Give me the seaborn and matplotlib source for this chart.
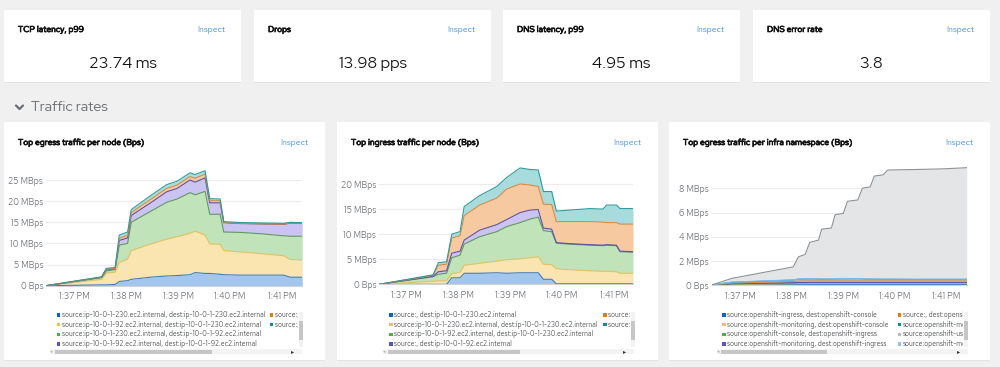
import numpy as np
import pandas as pd
import matplotlib
matplotlib.use('Agg')
import matplotlib.pyplot as plt
import matplotlib.patheffects as pe
from matplotlib.patches import Rectangle
from matplotlib.lines import Line2D
import seaborn as sns

sns.set_theme(style='white')
plt.rcParams['font.family'] = ['Red Hat Text', 'Lato', 'DejaVu Sans']
DISPLAY = ['Red Hat Display', 'Lato', 'DejaVu Sans']

# --- summary cards ---
card_titles = ['TCP latency, p99', 'Drops', 'DNS latency, p99', 'DNS error rate']
card_values = ['23.74 ms', '13.98 pps', '4.95 ms', '3.8']

tick_minutes = [37, 38, 39, 40, 41]
tick_labels = ['1:37 PM', '1:38 PM', '1:39 PM', '1:40 PM', '1:41 PM']

# --- top egress traffic per node (MBps, layer thickness) ---
egress_t = [36.46, 37.53, 37.62, 37.79, 37.87, 38.03, 38.10, 38.46, 38.78, 38.98, 39.23,
            39.33, 39.52, 39.61, 39.81, 39.88, 40.20, 40.58, 41.03, 41.16, 41.39]
egress_blue = [0, 0.2, 0.2, 0.3, 1.0, 1.2, 1.5, 2.0, 2.3, 2.4, 2.6, 3.1, 2.9, 2.9, 2.7, 2.6, 2.5, 2.5, 2.5, 2.0, 2.0]
egress_yellow = [0, 1.3, 2.8, 2.9, 4.5, 5.1, 6.8, 7.8, 8.7, 9.2, 9.8, 9.8, 9.1, 7.0, 7.1, 5.7, 5.5, 5.1, 4.6, 4.2, 4.1]
egress_green = [0, 0.4, 0.5, 0.6, 4.1, 3.7, 6.7, 7.7, 8.7, 8.9, 9.6, 8.6, 10.3, 7.0, 7.1, 4.4, 4.6, 4.7, 4.7, 5.5, 5.6]
egress_purple = [0, 0.1, 0.3, 0.2, 1.1, 1.3, 1.6, 2.0, 2.5, 2.5, 3.0, 3.0, 3.2, 2.7, 2.7, 2.2, 2.1, 2.3, 2.7, 3.1, 3.0]
egress_orange = [0, 0.05, 0.1, 0.1, 0.5, 0.6, 0.7, 0.8, 0.8, 0.8, 0.8, 0.9, 0.9, 0.5, 0.5, 0.1, 0.05, 0.05, 0.05, 0.05, 0.05]
egress_teal = [0, 0.05, 0.2, 0.2, 0.8, 0.8, 0.7, 0.9, 0.9, 0.9, 0.9, 0.9, 0.8, 0.5, 0.4, 0.15, 0.2, 0.2, 0.2, 0.15, 0.15]
egress_labels = ['source:ip-10-0-1-230.ec2.internal, dest:ip-10-0-1-230.ec2.internal',
                 'source:ip-10-0-1-92.ec2.internal, dest:ip-10-0-1-230.ec2.internal',
                 'source:ip-10-0-1-230.ec2.internal, dest:ip-10-0-1-92.ec2.internal',
                 'source:ip-10-0-1-92.ec2.internal, dest:ip-10-0-1-92.ec2.internal',
                 'source:, dest:ip-10-0-1-230',
                 'source:, dest:ip-10-0-1-92']

# --- top ingress traffic per node ---
ingress_t = [36.47, 37.51, 37.61, 37.77, 37.87, 38.03, 38.11, 38.41, 38.74, 38.93, 39.19, 39.38,
             39.54, 39.64, 39.80, 39.89, 40.15, 40.54, 40.79, 40.86, 41.05, 41.12, 41.37]
ingress_blue = [0, 0, 0, 0, 1.3, 1.3, 2.2, 2.2, 2.3, 2.2, 2.3, 2.3, 2.3, 1.0, 1.0, 0.1, 0.1, 0.1, 0.1, 0.1, 0.1, 0.1, 0.1]
ingress_yellow = [0, 0.6, 0.7, 0.7, 0.8, 1.1, 1.6, 2.0, 2.3, 2.7, 2.8, 3.0, 3.2, 3.0, 2.9, 3.0, 2.8, 2.6, 2.5, 2.5, 2.4, 2.1, 2.1]
ingress_green = [0, 0.9, 1.3, 1.5, 3.2, 3.4, 4.2, 5.3, 5.9, 6.6, 7.2, 7.7, 7.9, 6.7, 6.6, 5.1, 5.1, 5.1, 5.1, 5.2, 5.2, 4.3, 4.2]
ingress_purple = [0, 0.1, 0.5, 0.5, 0.9, 0.8, 0.8, 1.3, 1.4, 1.4, 2.0, 1.8, 1.5, 0.5, 0.5, 0.1, 0.1, 0.1, 0.1, 0.1, 0.1, 0.1, 0.1]
ingress_orange = [0, 0.2, 1.3, 1.3, 3.0, 3.1, 4.9, 5.0, 5.3, 6.1, 5.7, 5.0, 4.6, 4.8, 4.9, 4.2, 4.4, 4.6, 4.6, 4.4, 4.5, 5.4, 5.5]
ingress_teal = [0, 0.1, 0.5, 0.5, 0.8, 0.8, 1.8, 1.9, 2.3, 2.3, 3.2, 3.1, 3.3, 2.5, 2.6, 2.1, 2.3, 2.6, 2.6, 3.5, 3.5, 3.1, 3.1]
ingress_labels = ['source:, dest:ip-10-0-1-230.ec2.internal',
                  'source:ip-10-0-1-230.ec2.internal, dest:ip-10-0-1-230.ec2.internal',
                  'source:ip-10-0-1-92.ec2.internal, dest:ip-10-0-1-230.ec2.internal',
                  'source:, dest:ip-10-0-1-92.ec2.internal',
                  'source:., dest:ip-10-0-1',
                  'source:, dest:ip-10-0-1']

# --- top egress traffic per infra namespace ---
infra_t = [36.45, 36.84, 38.03, 38.13, 38.26, 38.35, 38.52, 38.58, 38.77, 38.84, 39.00,
           39.08, 39.28, 39.37, 39.52, 39.60, 39.77, 39.86, 40.39, 40.90, 41.39]
infra_blue = [0, 0.02, 0.03, 0.03, 0.03, 0.03, 0.03, 0.03, 0.03, 0.03, 0.03, 0.03, 0.03, 0.03, 0.03, 0.03, 0.03, 0.03, 0.03, 0.03, 0.03]
infra_yellow = [0, 0.04, 0.08, 0.09, 0.09, 0.10, 0.10, 0.10, 0.10, 0.10, 0.10, 0.10, 0.10, 0.10, 0.10, 0.10, 0.10, 0.10, 0.10, 0.10, 0.10]
infra_green = [0, 0.03, 0.05, 0.06, 0.06, 0.06, 0.06, 0.06, 0.06, 0.06, 0.06, 0.06, 0.06, 0.06, 0.06, 0.06, 0.06, 0.06, 0.06, 0.06, 0.06]
infra_purple = [0, 0.02, 0.03, 0.03, 0.03, 0.03, 0.03, 0.03, 0.03, 0.03, 0.03, 0.03, 0.03, 0.03, 0.03, 0.03, 0.03, 0.03, 0.03, 0.03, 0.03]
infra_orange = [0, 0.05, 0.10, 0.12, 0.12, 0.12, 0.12, 0.12, 0.12, 0.12, 0.12, 0.12, 0.12, 0.12, 0.12, 0.12, 0.12, 0.12, 0.12, 0.12, 0.12]
infra_teal = [0, 0.06, 0.12, 0.15, 0.16, 0.16, 0.15, 0.14, 0.14, 0.15, 0.16, 0.16, 0.17, 0.15, 0.14, 0.14, 0.13, 0.13, 0.12, 0.12, 0.12]
infra_lightblue = [0, 0.02, 0.02, 0.02, 0.02, 0.02, 0.02, 0.02, 0.02, 0.02, 0.02, 0.02, 0.02, 0.02, 0.02, 0.02, 0.02, 0.02, 0.02, 0.02, 0.02]
infra_gray = [0, 0.31, 1.07, 1.83, 2.02, 3.01, 3.21, 4.12, 4.22, 5.31, 5.41, 6.41, 6.51, 7.51, 7.62, 8.52, 8.63, 9.03, 9.08, 9.13, 9.23]
infra_labels = ['source:openshift-ingress, dest:openshift-console',
                'source:openshift-monitoring, dest:openshift-console',
                'source:openshift-console, dest:openshift-ingress',
                'source:openshift-monitoring, dest:openshift-ingress',
                'source:, dest:opensh',
                'source:openshift-mc',
                'source:openshift-us',
                'source:openshift-mc']

fills = {'blue': '#a3c6ec', 'yellow': '#fae4b0', 'green': '#c0e3ba', 'purple': '#cbc3f2',
         'orange': '#f7c9a0', 'teal': '#a8dbdc', 'gray': '#e4e5e7', 'lightblue': '#c3e2f5'}
lines = {'blue': '#3d7cc4', 'yellow': '#e3c260', 'green': '#5d9e55', 'purple': '#5b50ae',
         'orange': '#e08a3c', 'teal': '#2f9c9c', 'gray': '#8e9194', 'lightblue': '#73bcf7'}
swatch = {'blue': '#0066cc', 'yellow': '#f4c145', 'green': '#4cb140', 'purple': '#5752d1',
          'orange': '#ec7a08', 'teal': '#009596', 'gray': '#b8bbbe', 'lightblue': '#8bc1f7'}
keys6 = ['blue', 'yellow', 'green', 'purple', 'orange', 'teal']
keys8 = keys6 + ['gray', 'lightblue']

W, H = 1000, 367
fig = plt.figure(figsize=(10, 3.67), dpi=100, facecolor='#f0f0f0')


def px_axes(x0, y0, x1, y1, z=1):
    return fig.add_axes([x0 / W, 1 - y1 / H, (x1 - x0) / W, (y1 - y0) / H], zorder=z)


bg = px_axes(0, 0, W, H, z=0)
bg.set_xlim(0, W)
bg.set_ylim(H, 0)
bg.axis('off')

INK = '#151515'
LINK = '#3c8de0'
GREY = '#72767b'
TSIZE = 6.1
BOLD = [pe.withStroke(linewidth=0.55, foreground=INK)]

# summary cards
for i, (title, val) in enumerate(zip(card_titles, card_values)):
    x0 = [4, 254, 503, 753][i]
    bg.add_patch(Rectangle((x0, 10.6), 237, 72, color='#e3e3e3', lw=0))
    bg.add_patch(Rectangle((x0, 10), 237, 72, color='white', lw=0))
    bg.text(x0 + 14, 30, title, fontsize=TSIZE, color=INK, va='center', path_effects=BOLD)
    bg.text(x0 + 221, 30, 'Inspect', fontsize=TSIZE, color=LINK, va='center', ha='right')
    bg.text(x0 + 118.5, 64, val, fontsize=11.6, color=INK, va='center', ha='center', family=DISPLAY)

# section header
bg.add_line(Line2D([16, 19.5, 23], [105.5, 109, 105.5], color='#6a6e73', lw=1.6))
bg.text(31, 108, 'Traffic rates', fontsize=10.3, color='#6a6e73', va='center', family=DISPLAY)

charts = [
    dict(title='Top egress traffic per node (Bps)', card=4, t=egress_t,
         layers=[egress_blue, egress_yellow, egress_green, egress_purple, egress_orange, egress_teal],
         keys=keys6, leg=keys6, labels=egress_labels, ax=(46, 165, 302, 285.7), xlim=(36.46, 41.385),
         ylim=(0, 28.55), yt=[0, 5, 10, 15, 20, 25], ytl=['0 Bps'] + ['%d MBps' % v for v in [5, 10, 15, 20, 25]],
         lx=(56.7, 270), clip=297.5, vs=298.5, hs=(50, 55, 211.7, 302)),
    dict(title='Top ingress traffic per node (Bps)', card=337, t=ingress_t,
         layers=[ingress_blue, ingress_yellow, ingress_green, ingress_purple, ingress_orange, ingress_teal],
         keys=keys6, leg=keys6, labels=ingress_labels, ax=(379, 165, 633, 284.3), xlim=(36.465, 41.37),
         ylim=(0, 23.79), yt=[0, 5, 10, 15, 20], ytl=['0 Bps'] + ['%d MBps' % v for v in [5, 10, 15, 20]],
         lx=(389.3, 603.3), clip=629.5, vs=630.5, hs=(383, 388, 520, 634)),
    dict(title='Top egress traffic per infra namespace (Bps)', card=669, t=infra_t,
         layers=[infra_blue, infra_yellow, infra_green, infra_purple, infra_orange, infra_teal,
                 infra_lightblue, infra_gray],
         keys=keys6 + ['lightblue', 'gray'], leg=keys8, labels=infra_labels,
         ax=(711.7, 163, 966.7, 285), xlim=(36.45, 41.39),
         ylim=(0, 10.1), yt=[0, 2, 4, 6, 8], ytl=['0 Bps'] + ['%d MBps' % v for v in [2, 4, 6, 8]],
         lx=(722.3, 897.7), clip=963, vs=963.5, hs=(717, 721, 827, 968)),
]

for c in charts:
    x0 = c['card']
    bg.add_patch(Rectangle((x0, 122.6), 320.5, 238, color='#e3e3e3', lw=0))
    bg.add_patch(Rectangle((x0, 122), 320.5, 238, color='white', lw=0))
    bg.text(x0 + 14, 143, c['title'], fontsize=TSIZE, color=INK, va='center', path_effects=BOLD)
    bg.text(x0 + 304, 143, 'Inspect', fontsize=TSIZE, color=LINK, va='center', ha='right')

    ax = px_axes(*c['ax'])
    ax.set_facecolor('none')
    ax.stackplot(c['t'], *c['layers'], colors=[fills[k] for k in c['keys']], lw=0, zorder=2)
    cum = np.cumsum(np.array(c['layers']), axis=0)
    df = pd.DataFrame({'t': np.tile(c['t'], len(c['keys'])),
                       'v': cum.ravel(),
                       'series': np.repeat(c['keys'], len(c['t']))})
    sns.lineplot(data=df, x='t', y='v', hue='series', palette=lines, estimator=None,
                 sort=False, lw=0.8, legend=False, ax=ax, zorder=3)
    ax.set_xlim(*c['xlim'])
    ax.set_ylim(*c['ylim'])
    ax.set_xticks(tick_minutes, tick_labels)
    ax.set_yticks(c['yt'], c['ytl'])
    ax.set_xlabel('')
    ax.set_ylabel('')
    ax.tick_params(axis='both', length=0, labelsize=6.3, labelcolor=GREY)
    ax.tick_params(axis='x', pad=4.5)
    ax.tick_params(axis='y', pad=2)
    ax.yaxis.grid(True, color='#ececec', lw=0.8, zorder=0)
    ax.set_axisbelow(True)
    for s in ['top', 'right', 'left']:
        ax.spines[s].set_visible(False)
    ax.spines['bottom'].set_color('#d2d2d2')
    ax.spines['bottom'].set_linewidth(0.8)

    # legend (scrollable box in the original)
    lg_x0 = c['lx'][0] - 2
    lax = px_axes(lg_x0, 309, c['clip'], 347.5, z=2)
    lax.set_xlim(lg_x0, c['clip'])
    lax.set_ylim(347.5, 309)
    lax.axis('off')
    rows = [315, 324.7, 334.3, 344]
    for j, (k, lab) in enumerate(zip(c['leg'], c['labels'])):
        col = 0 if j < 4 else 1
        y = rows[j % 4]
        x = c['lx'][col]
        lax.add_patch(Rectangle((x, y - 1.7), 3.4, 3.4, color=swatch[k], lw=0, clip_on=True))
        lax.text(x + 5, y, lab, fontsize=4.85, color='#45484b', va='center', clip_on=True)

    # scrollbars
    vs = c['vs']
    bg.add_patch(Rectangle((vs, 311.7), 4.5, 35.5, color='#f3f3f3', lw=0, zorder=3))
    bg.add_patch(Rectangle((vs + 0.5, 320.5), 3.5, 19.5, color='#c6c6c6', lw=0, zorder=3))
    hs = c['hs']
    bg.add_patch(Rectangle((hs[0], 349.3), hs[3] - hs[0], 5, color='#f3f3f3', lw=0, zorder=3))
    bg.add_patch(Rectangle((hs[1], 349.8), hs[2] - hs[1], 4, color='#c6c6c6', lw=0, zorder=3))
    bg.text(hs[3] - 9, 351.8, '\u25b8', fontsize=4.5, color='#333333', ha='center', va='center', zorder=4)
    bg.text(hs[0] + 1.5, 351.8, '\u25c2', fontsize=3.5, color='#b0b0b0', ha='center', va='center', zorder=4)

fig.savefig('out.png', dpi=100, facecolor=fig.get_facecolor())
